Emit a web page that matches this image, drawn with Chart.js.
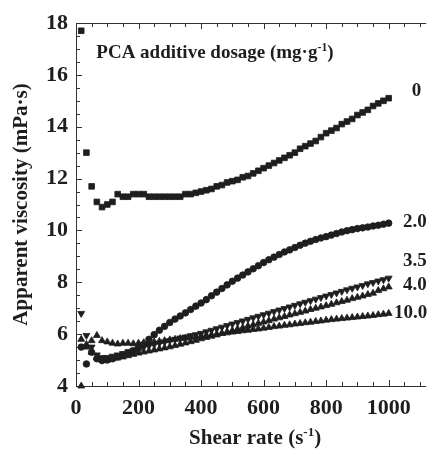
<!DOCTYPE html>
<html><head><meta charset="utf-8">
<script src="https://cdn.jsdelivr.net/npm/chart.js@4.4.1/dist/chart.umd.min.js"></script>
<style>html,body{margin:0;padding:0;background:#fff}</style>
</head><body>
<canvas id="c" width="431" height="450"></canvas>
<script>
// ---- data ----
const shearRate = [16.7,33.3,50,66.7,83.3,100,116.7,133.3,150,166.7,183.3,200,216.7,233.3,250,266.7,283.3,300,316.7,333.3,350,366.7,383.3,400,416.7,433.3,450,466.7,483.3,500,516.7,533.3,550,566.7,583.3,600,616.7,633.3,650,666.7,683.3,700,716.7,733.3,750,766.7,783.3,800,816.7,833.3,850,866.7,883.3,900,916.7,933.3,950,966.7,983.3,1000];
const dosageLabels = ['0','2.0','3.5','4.0','10.0'];
const visc0 = [17.7,13.0,11.7,11.1,10.9,11.0,11.1,11.4,11.3,11.3,11.4,11.4,11.4,11.3,11.3,11.3,11.3,11.3,11.3,11.3,11.4,11.4,11.45,11.5,11.55,11.6,11.7,11.75,11.85,11.9,11.95,12.05,12.1,12.2,12.3,12.4,12.5,12.6,12.7,12.8,12.9,13.0,13.15,13.25,13.35,13.45,13.6,13.75,13.85,13.95,14.1,14.2,14.3,14.45,14.55,14.65,14.8,14.9,15.0,15.1];
const visc2 = [5.5,4.85,5.3,5.05,4.98,5.0,5.05,5.12,5.2,5.28,5.36,5.45,5.6,5.8,5.98,6.15,6.3,6.45,6.58,6.7,6.82,6.95,7.08,7.2,7.33,7.48,7.62,7.76,7.9,8.04,8.16,8.28,8.4,8.52,8.64,8.76,8.87,8.97,9.07,9.17,9.25,9.34,9.43,9.51,9.58,9.65,9.71,9.76,9.82,9.88,9.94,9.99,10.03,10.07,10.1,10.13,10.17,10.2,10.24,10.28];
const visc35 = [6.8,5.95,5.5,5.2,5.1,5.1,5.15,5.2,5.25,5.32,5.38,5.45,5.5,5.55,5.6,5.65,5.7,5.75,5.8,5.85,5.89,5.94,5.98,6.03,6.09,6.15,6.21,6.27,6.33,6.39,6.45,6.51,6.57,6.63,6.69,6.75,6.81,6.87,6.93,6.99,7.05,7.11,7.17,7.23,7.29,7.35,7.41,7.47,7.53,7.59,7.65,7.71,7.77,7.82,7.88,7.94,7.99,8.05,8.1,8.16];
const visc4 = [5.8,5.5,5.3,5.1,5.0,5.0,5.05,5.08,5.12,5.17,5.22,5.27,5.31,5.35,5.39,5.43,5.47,5.51,5.56,5.61,5.66,5.71,5.76,5.82,5.87,5.92,5.97,6.03,6.09,6.14,6.2,6.25,6.31,6.36,6.42,6.47,6.52,6.58,6.63,6.68,6.74,6.79,6.84,6.89,6.95,7.0,7.05,7.1,7.15,7.21,7.26,7.31,7.37,7.42,7.47,7.53,7.58,7.68,7.75,7.82];
const visc10 = [4.0,5.6,5.75,5.95,5.75,5.7,5.65,5.62,5.65,5.65,5.63,5.65,5.67,5.68,5.7,5.72,5.75,5.78,5.8,5.83,5.85,5.88,5.9,5.93,5.95,5.98,6.0,6.03,6.05,6.08,6.1,6.13,6.15,6.18,6.2,6.23,6.26,6.29,6.31,6.34,6.36,6.39,6.41,6.44,6.46,6.49,6.51,6.54,6.56,6.58,6.6,6.62,6.64,6.66,6.68,6.7,6.72,6.75,6.77,6.8];
const xTickLabels = ['0','200','400','600','800','1000'];
const yTickLabels = ['4','6','8','10','12','14','16','18'];

// ---- styling ----
const FONT = '"Liberation Serif","Times New Roman",serif';
const INK = '#1e1e1e';
const seriesVals = [visc0, visc2, visc35, visc4, visc10];
const seriesStyle = [
  {pointStyle:'rect', radius:4, rotation:0},
  {pointStyle:'circle', radius:3.3, rotation:0},
  {pointStyle:'triangle', radius:4, rotation:180},
  {pointStyle:'triangle', radius:4, rotation:0},
  {pointStyle:'triangle', radius:4, rotation:0}
];
// label anchor positions (data units)
const labelAnchor = [[1074,15.38],[1046,10.33],[1046,8.8],[1046,7.9],[1017,6.8]];

const datasets = seriesVals.map((vals, i) => ({
  label: dosageLabels[i],
  data: shearRate.map((x, j) => ({x: x, y: vals[j]})),
  pointStyle: seriesStyle[i].pointStyle,
  pointRadius: seriesStyle[i].radius,
  pointRotation: seriesStyle[i].rotation,
  pointBackgroundColor: INK,
  pointBorderColor: INK,
  pointBorderWidth: 0.8,
  showLine: false,
  clip: false
}));

function drawRich(ctx, parts, x, y, size, align) {
  let total = 0;
  const widths = parts.map(p => {
    ctx.font = 'bold ' + (p.sup ? size * 0.62 : size) + 'px ' + FONT;
    const w = ctx.measureText(p.t).width; total += w; return w;
  });
  let cx = align === 'center' ? x - total / 2 : x;
  parts.forEach((p, k) => {
    ctx.font = 'bold ' + (p.sup ? size * 0.62 : size) + 'px ' + FONT;
    ctx.fillText(p.t, cx, p.sup ? y - size * 0.38 : y);
    cx += widths[k];
  });
}

const framePlugin = {
  id: 'frame',
  beforeDatasetsDraw(chart) {
    const {ctx, chartArea: a, scales: {x, y}} = chart;
    ctx.save();
    ctx.strokeStyle = '#333';
    ctx.lineWidth = 1;
    ctx.beginPath();
    ctx.moveTo(a.left + 0.5, a.top + 0.5); ctx.lineTo(a.left + 0.5, a.bottom + 0.5);
    ctx.moveTo(a.left, a.bottom + 0.5); ctx.lineTo(a.right, a.bottom + 0.5);
    ctx.moveTo(a.left, a.top + 0.5); ctx.lineTo(a.right, a.top + 0.5);
    for (let v = x.min; v <= x.max; v += 50) {
      const px = Math.round(x.getPixelForValue(v)) + 0.5;
      const len = (v % 200 === 0) ? 6 : 4;
      ctx.moveTo(px, a.bottom); ctx.lineTo(px, a.bottom - len);
      ctx.moveTo(px, a.top); ctx.lineTo(px, a.top + len);
    }
    for (let v = y.min; v <= y.max + 1e-9; v += 0.5) {
      const py = Math.round(y.getPixelForValue(v)) + 0.5;
      const len = (Math.abs(v % 2) < 1e-9) ? 6 : 4;
      ctx.moveTo(a.left, py); ctx.lineTo(a.left + len, py);
    }
    ctx.stroke();
    ctx.restore();
  },
  afterDraw(chart) {
    const {ctx, chartArea: a, scales: {x, y}} = chart;
    ctx.save();
    ctx.fillStyle = INK;
    ctx.textAlign = 'left';
    ctx.font = 'bold 19px ' + FONT;
    ctx.textBaseline = 'middle';
    dosageLabels.forEach((t, i) => {
      ctx.fillText(t, x.getPixelForValue(labelAnchor[i][0]), y.getPixelForValue(labelAnchor[i][1]));
    });
    ctx.textBaseline = 'alphabetic';
    drawRich(ctx, [{t:'PCA additive dosage (mg·g'},{t:'-1',sup:true},{t:')'}],
      x.getPixelForValue(65), y.getPixelForValue(16.65), 19, 'left');
    drawRich(ctx, [{t:'Shear rate (s'},{t:'-1',sup:true},{t:')'}],
      (a.left + a.right) / 2 + 4, 444, 21, 'center');
    ctx.translate(27, (a.top + a.bottom) / 2);
    ctx.rotate(-Math.PI / 2);
    drawRich(ctx, [{t:'Apparent viscosity (mPa·s)'}], 0, 0, 21, 'center');
    ctx.restore();
  }
};

new Chart(document.getElementById('c'), {
  type: 'scatter',
  data: {datasets},
  options: {
    responsive: false,
    animation: false,
    layout: {padding: {top: 23, right: 0, left: 0, bottom: 0}},
    plugins: {legend: {display: false}, tooltip: {enabled: false}},
    scales: {
      x: {
        type: 'linear', min: 0, max: 1120,
        afterFit(s) { s.height = 64; },
        grid: {display: false, drawTicks: false},
        border: {display: false},
        ticks: {
          stepSize: 200, includeBounds: false, padding: 9, maxRotation: 0,
          color: INK, font: {family: FONT, size: 22, weight: 'bold'},
          callback: (v) => xTickLabels.includes(String(v)) ? String(v) : ''
        }
      },
      y: {
        type: 'linear', min: 4, max: 18,
        afterFit(s) { s.width = 76; },
        grid: {display: false, drawTicks: false},
        border: {display: false},
        ticks: {
          stepSize: 2, padding: 8,
          color: INK, font: {family: FONT, size: 22, weight: 'bold'},
          callback: (v) => yTickLabels.includes(String(v)) ? String(v) : ''
        }
      }
    }
  },
  plugins: [framePlugin]
});
</script>
</body></html>
